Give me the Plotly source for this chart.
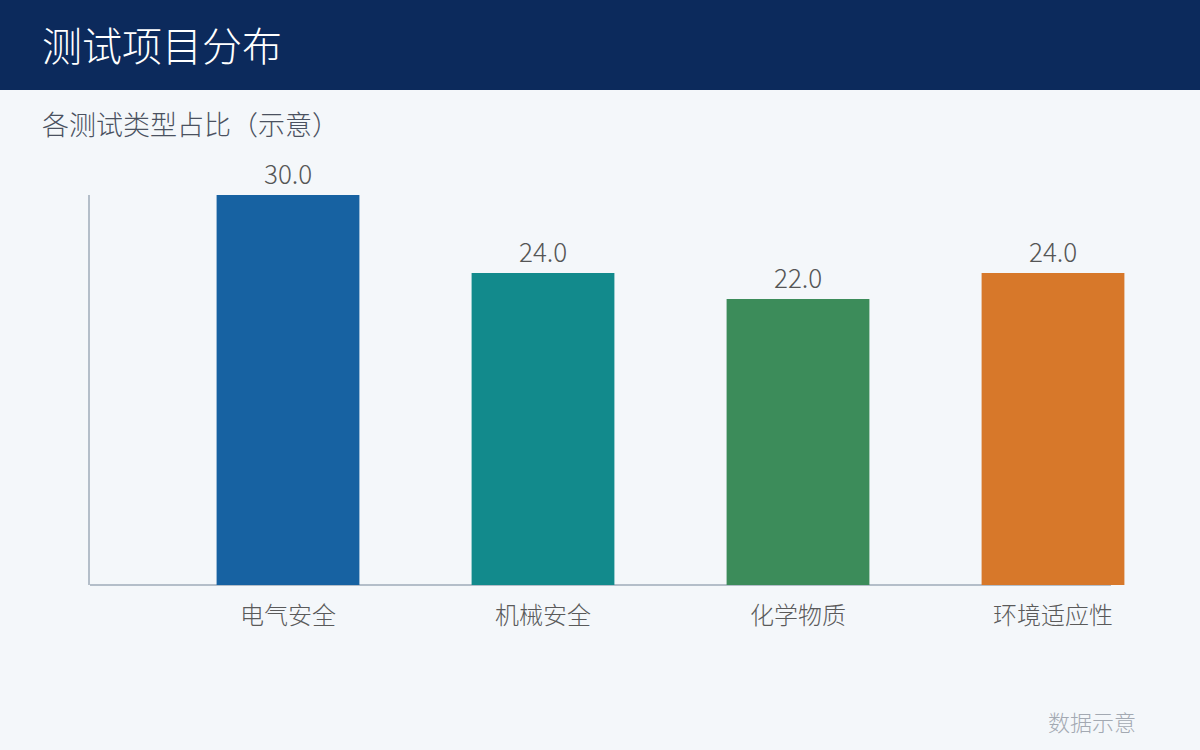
import plotly.graph_objects as go

categories = ["电气安全", "机械安全", "化学物质", "环境适应性"]
values = [30.0, 24.0, 22.0, 24.0]
bar_colors = ["#1762A2", "#128A8C", "#3C8C5A", "#D7782A"]

title_text = "测试项目分布"
subtitle_text = "各测试类型占比（示意）"
footer_text = "数据示意"

FONT = "Noto Sans CJK SC"
WEIGHT = 300
W, H = 1200, 750
L, R, T, B = 90, 60, 195, 165
pw, ph = W - L - R, H - T - B


def px_x(px):
    return (px - L) / pw


def px_y(py):
    return (H - B - py) / ph


fig = go.Figure()
fig.add_trace(go.Bar(
    x=list(range(len(categories))),
    y=values,
    marker=dict(color=bar_colors, line=dict(width=0)),
    width=0.56,
    hoverinfo="skip",
))

value_labels = [
    dict(text=f"{v:.1f}", x=i, y=v, xref="x", yref="y",
         xanchor="center", yanchor="middle", yshift=23,
         showarrow=False,
         font=dict(family=FONT, size=26, color="#555555", weight=WEIGHT))
    for i, v in enumerate(values)
]

# x range so that category centers land where the reference puts them
x_left = -(288 - L) / 255
x_right = (W - R - 288) / 255

fig.update_layout(
    width=W, height=H,
    margin=dict(l=L, r=R, t=T, b=B, pad=0),
    paper_bgcolor="#F4F7FA",
    plot_bgcolor="#F4F7FA",
    showlegend=False,
    xaxis=dict(
        range=[x_left, x_right],
        tickmode="array",
        tickvals=list(range(len(categories))),
        ticktext=categories,
        tickfont=dict(family=FONT, size=24, color="#5A5A5A", weight=WEIGHT),
        showline=False, showgrid=False, zeroline=False,
        ticks="outside", ticklen=9, tickcolor="rgba(0,0,0,0)",
        fixedrange=True,
    ),
    yaxis=dict(
        range=[0, 30],
        showticklabels=False,
        showgrid=False, zeroline=False,
        showline=True, linecolor="#B4BEC9", linewidth=2,
        layer="below traces",
        ticks="",
        fixedrange=True,
    ),
    shapes=[
        dict(type="rect", xref="paper", yref="paper",
             x0=px_x(0), x1=px_x(W), y0=px_y(90), y1=px_y(0),
             fillcolor="#0C2A5C", line=dict(width=0), layer="below"),
        dict(type="line", xref="paper", yref="paper",
             x0=px_x(90), x1=px_x(1111), y0=0, y1=0,
             line=dict(color="#B4BEC9", width=2), layer="below"),
    ],
    annotations=value_labels + [
        dict(text=title_text, xref="paper", yref="paper",
             x=px_x(40), y=px_y(44), xanchor="left", yanchor="middle",
             showarrow=False,
             font=dict(family=FONT, size=40, color="#FFFFFF", weight=WEIGHT)),
        dict(text=subtitle_text, xref="paper", yref="paper",
             x=px_x(40), y=px_y(124), xanchor="left", yanchor="middle",
             showarrow=False,
             font=dict(family=FONT, size=27, color="#4A5160", weight=WEIGHT)),
        dict(text=footer_text, xref="paper", yref="paper",
             x=px_x(1138), y=px_y(721), xanchor="right", yanchor="middle",
             showarrow=False,
             font=dict(family=FONT, size=22, color="#A3A9B2", weight=WEIGHT)),
    ],
)

fig.write_html(
    "out.html",
    config={"displayModeBar": False},
    post_script="document.body.style.margin='0';document.body.style.overflow='hidden';",
)
